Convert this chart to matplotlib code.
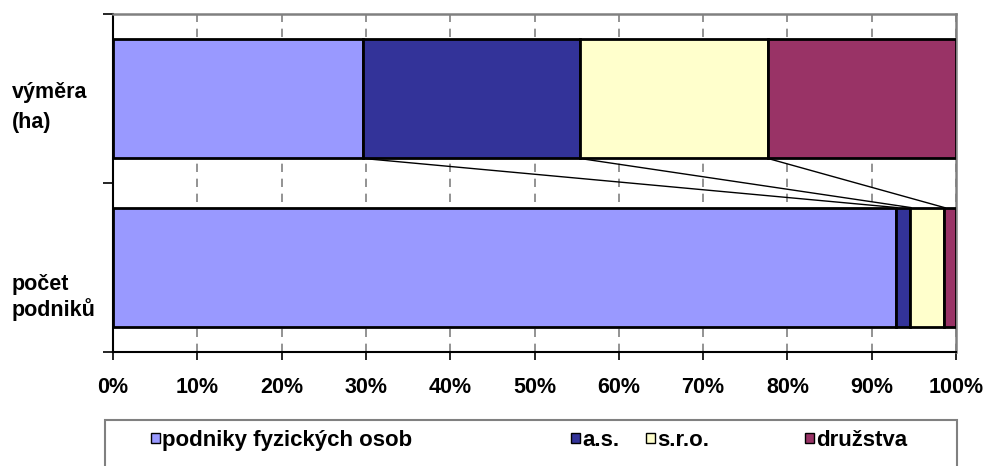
import matplotlib
matplotlib.use("Agg")
import matplotlib.pyplot as plt
import numpy as np
from matplotlib.patches import Rectangle

# data (shares in %)
categories = ["počet\npodniků", "výměra\n(ha)"]
series_names = ["podniky fyzických osob", "a.s.", "s.r.o.", "družstva"]
series_colors = ["#9999FF", "#333399", "#FFFFCC", "#993366"]
vymera = [29.7, 25.7, 22.3, 22.3]
pocet = [92.9, 1.7, 4.0, 1.4]
x_ticks = [0, 10, 20, 30, 40, 50, 60, 70, 80, 90, 100]

W, H = 986, 466
plt.rcParams["font.family"] = ["Liberation Sans", "DejaVu Sans"]
plt.rcParams["font.weight"] = "bold"
fs = 15.5

fig = plt.figure(figsize=(W / 100, H / 100), dpi=100)


def fx(x):
    return x / W


def fy(y):
    return 1 - y / H


ax = fig.add_axes([fx(113), fy(352), fx(956) - fx(113), fy(14) - fy(352)])

values = np.array([pocet, vymera])
ypos = np.arange(len(categories))
bar_h = 0.71
left = np.zeros(len(categories))
for i, name in enumerate(series_names):
    ax.barh(ypos, values[:, i], left=left, height=bar_h, color=series_colors[i],
            edgecolor="black", linewidth=2, zorder=3, label=name)
    left += values[:, i]

# series lines between the bars
cum_top = np.cumsum(vymera)[:-1]
cum_bot = np.cumsum(pocet)[:-1]
for a, b in zip(cum_top, cum_bot):
    ax.plot([a, b], [1 - bar_h / 2, bar_h / 2], color="black", linewidth=1, zorder=2)

ax.set_xlim(0, 100)
ax.set_ylim(-0.5, 1.5)
ax.set_xticks(x_ticks)
ax.set_xticklabels([f"{t}%" for t in x_ticks], fontsize=fs, fontweight="bold")
ax.set_yticks([-0.5, 0.5, 1.5])
ax.set_yticklabels([])
ax.tick_params(axis="x", direction="out", length=6, width=1.2, pad=12)
ax.tick_params(axis="y", direction="out", length=7, width=1.2)
ax.xaxis.grid(True, color="#808080", linestyle=(0, (5, 4)), linewidth=1.2, zorder=0)
ax.set_axisbelow(True)
for s in ["top", "right"]:
    ax.spines[s].set_color("#808080")
    ax.spines[s].set_linewidth(1.8)
for s in ["left", "bottom"]:
    ax.spines[s].set_color("black")
    ax.spines[s].set_linewidth(1.5)

# category labels
label_lines = {1: [(98, "výměra"), (128, "(ha)")], 0: [(290, "počet"), (316, "podniků")]}
for k in label_lines:
    for yb, txt in label_lines[k]:
        fig.text(fx(12), fy(yb), txt, fontsize=fs, fontweight="bold",
                 ha="left", va="baseline")

# legend box
fig.patches.append(Rectangle((fx(105), fy(475)), fx(957) - fx(105), fy(420) - fy(475),
                             transform=fig.transFigure, facecolor="white",
                             edgecolor="#808080", linewidth=1.5, zorder=1))
leg_x = [151, 571, 646, 805]
for x0, name, col in zip(leg_x, series_names, series_colors):
    fig.patches.append(Rectangle((fx(x0), fy(443)), fx(9), 10 / H,
                                 transform=fig.transFigure, facecolor=col,
                                 edgecolor="black", linewidth=1, zorder=2))
    fig.text(fx(x0 + 11), fy(446), name, fontsize=fs + 0.5, fontweight="bold",
             ha="left", va="baseline", zorder=3)

fig.savefig("out.png", dpi=100)
